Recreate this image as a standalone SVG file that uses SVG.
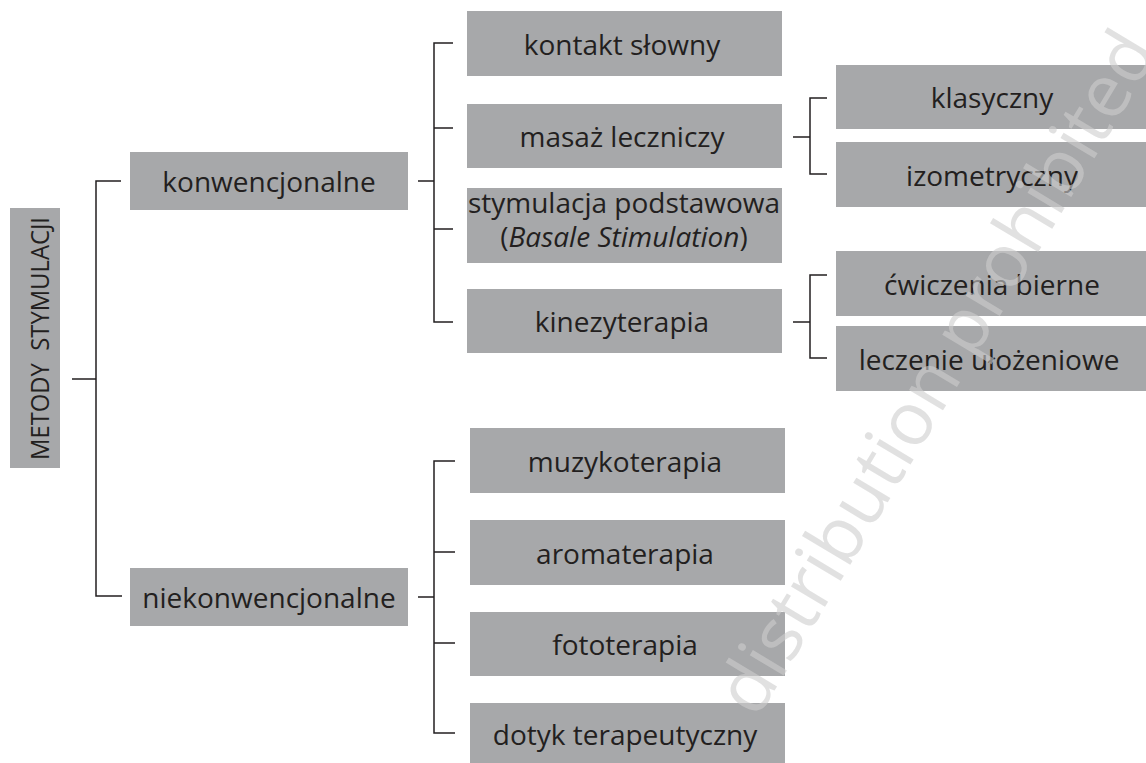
<svg xmlns="http://www.w3.org/2000/svg" width="1146" height="763" viewBox="0 0 1146 763">
<style>
.box{fill:#a7a8aa}
.t{font-family:"Open Sans","Noto Sans",sans-serif;font-size:28px;fill:#231f20;text-anchor:middle}
.c{fill:none;stroke:#231f20;stroke-width:1.5}
.wm{font-family:"Open Sans","Noto Sans",sans-serif;font-size:74px;fill:#cdcdcd;fill-opacity:0.6;text-anchor:middle}
</style>
<rect width="1146" height="763" fill="#ffffff"/>
<g id="connectors" class="c">
<path d="M121,181 H96 V596 H122 M72,379 H96"/>
<path d="M418,181 H434 M453,43 H434 V322 H453 M434,128 H453 M434,229 H453"/>
<path d="M793,137 H810 M827,98 H810 V174 H827"/>
<path d="M793,322 H810 M827,275 H810 V358 H827"/>
<path d="M418,597 H434 M455,461 H434 V733 H455 M434,552 H455 M434,643 H455"/>
</g>
<g id="n-metody"><rect class="box" x="10" y="208" width="50" height="260"/><text class="t" transform="translate(49,338.5) rotate(-90)" style="font-size:26px" textLength="243" lengthAdjust="spacingAndGlyphs" xml:space="preserve">METODY  STYMULACJI</text></g>
<g id="n-konw"><rect class="box" x="130" y="152" width="278" height="58"/><text class="t" x="269" y="192">konwencjonalne</text></g>
<g id="n-niekonw"><rect class="box" x="130" y="568" width="278" height="58"/><text class="t" x="269" y="608">niekonwencjonalne</text></g>
<g id="n-kontakt"><rect class="box" x="467" y="11" width="315" height="65"/><text class="t" x="622" y="55">kontakt słowny</text></g>
<g id="n-masaz"><rect class="box" x="467" y="104" width="315" height="64"/><text class="t" x="622" y="147">masaż leczniczy</text></g>
<g id="n-stym"><rect class="box" x="467" y="188" width="315" height="75"/><text class="t"><tspan x="624" y="213">stymulacja podstawowa</tspan><tspan x="624" y="247">(<tspan font-style="italic">Basale Stimulation</tspan>)</tspan></text></g>
<g id="n-kinezy"><rect class="box" x="467" y="289" width="315" height="64"/><text class="t" x="622" y="332">kinezyterapia</text></g>
<g id="n-klas"><rect class="box" x="836" y="65" width="310" height="64"/><text class="t" x="992" y="108">klasyczny</text></g>
<g id="n-izo"><rect class="box" x="836" y="142" width="310" height="65"/><text class="t" x="992" y="186">izometryczny</text></g>
<g id="n-cwicz"><rect class="box" x="836" y="251" width="310" height="65"/><text class="t" x="992" y="295">ćwiczenia bierne</text></g>
<g id="n-lecz"><rect class="box" x="836" y="326" width="310" height="65"/><text class="t" x="989" y="370">leczenie ułożeniowe</text></g>
<g id="n-muzy"><rect class="box" x="470" y="428" width="315" height="65"/><text class="t" x="625" y="472">muzykoterapia</text></g>
<g id="n-aroma"><rect class="box" x="470" y="520" width="315" height="65"/><text class="t" x="625" y="564">aromaterapia</text></g>
<g id="n-foto"><rect class="box" x="470" y="612" width="315" height="64"/><text class="t" x="625" y="655">fototerapia</text></g>
<g id="n-dotyk"><rect class="box" x="470" y="703" width="315" height="60"/><text class="t" x="625" y="745">dotyk terapeutyczny</text></g>
<text class="wm" transform="translate(941,375) rotate(-59)" y="20">distribution prohibited</text>
</svg>
